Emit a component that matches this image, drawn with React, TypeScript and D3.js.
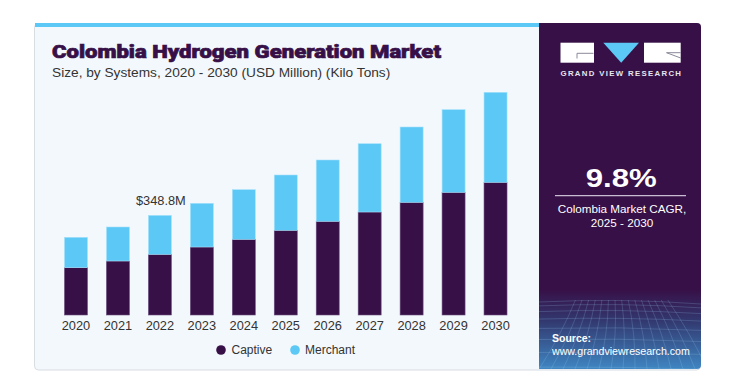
import React from "react";
import * as d3 from "d3";

const years = ["2020", "2021", "2022", "2023", "2024", "2025", "2026", "2027", "2028", "2029", "2030"];
const captive = [165.6, 189.0, 212.4, 238.0, 265.0, 296.5, 328.0, 360.5, 394.5, 429.5, 464.5];
const merchant = [106.4, 119.0, 136.4, 153.0, 173.6, 193.5, 214.5, 239.0, 263.5, 289.1, 315.0];
const seriesNames = ["Captive", "Merchant"];
const seriesColors = ["#371047", "#5bc8f5"];
const annotatedYear = "2022";
const annotationText = "$348.8M";
const titleText = "Colombia Hydrogen Generation Market";
const subtitleText = "Size, by Systems, 2020 - 2030 (USD Million) (Kilo Tons)";
const cagrText = "9.8%";
const cagrLabel1 = "Colombia Market CAGR,";
const cagrLabel2 = "2025 - 2030";

export default function App() {
  const x = d3.scaleBand<string>().domain(years).range([55, 516.5]).paddingInner(0.452).paddingOuter(0.226);
  const y = d3.scaleLinear().domain([0, 800]).range([315, 315 - 800 / 3.5]);

  const rows = years.map((yr, i) => ({ year: yr, Captive: captive[i], Merchant: merchant[i] }));
  const stacked = d3.stack<any>().keys(seriesNames)(rows);

  const annIdx = years.indexOf(annotatedYear);
  const annTotal = captive[annIdx] + merchant[annIdx];

  const font = "'Liberation Sans', Arial, sans-serif";

  // decorative perspective grid for bottom of side panel
  const gridLines: string[] = [];
  for (let i = 0; i <= 14; i++) {
    const bx = 539 + i * 12;
    const tx = 620 + (bx - 620) * 0.55;
    gridLines.push(`M${tx},300 Q${(tx + bx) / 2 + 4},335 ${bx},369`);
  }
  for (let j = 0; j < 9; j++) {
    const yy = 302 + j * j * 0.9 + j * 3;
    gridLines.push(`M539,${yy} Q620,${yy - 4 + j * 0.5} 701,${yy + 2}`);
  }

  return (
    <svg width={750} height={376} style={{ position: "absolute", left: 0, top: 0, background: "#fff" }}>
      <defs>
        <linearGradient id="panelGrad" x1="0" y1="0" x2="0" y2="1">
          <stop offset="0" stopColor="#371047" />
          <stop offset="0.77" stopColor="#371047" />
          <stop offset="0.86" stopColor="#32386f" />
          <stop offset="1" stopColor="#3f86c2" />
        </linearGradient>
        <clipPath id="panelClip">
          <path d="M539,23 H697 Q701,23 701,27 V365 Q701,369 697,369 H539 Z" />
        </clipPath>
      </defs>

      {/* card */}
      <rect x={34.5} y={23.5} width={666} height={346.5} rx={4} fill="#f3f8fc" stroke="#d8dde2" />
      <rect x={35} y={23} width={504} height={4} fill="#5bc8f5" />

      {/* side panel */}
      <g clipPath="url(#panelClip)">
        <rect x={539} y={23} width={162} height={346} fill="url(#panelGrad)" />
        {gridLines.map((d, i) => (
          <path key={i} d={d} fill="none" stroke="#9fd3f5" strokeOpacity={0.25} strokeWidth={0.8} />
        ))}
      </g>

      {/* logo */}
      <g>
        <rect x={560.5} y={42.7} width={33.5} height={20} fill="#ffffff" />
        <path d="M593.5,53.3 H577 V58.5" fill="none" stroke="#8a8a9a" strokeWidth={1} />
        <path d="M603.3,42.7 L639,42.7 L621.2,62.7 Z" fill="#5bc8f5" />
        <rect x={644} y={42.7} width={36.7} height={20} fill="#ffffff" />
        <path d="M680.7,52.7 H666.5 L680.7,58" fill="none" stroke="#8a8a9a" strokeWidth={1} />
        <text x={560.5} y={75.5} fill="#e6e6ee" fontFamily={font} fontWeight="bold" fontSize={7.8} textLength={120.5} lengthAdjust="spacing">
          GRAND VIEW RESEARCH
        </text>
      </g>

      {/* CAGR */}
      <text x={585.7} y={186.7} fill="#ffffff" fontFamily={font} fontWeight="bold" fontSize={26} textLength={71} lengthAdjust="spacingAndGlyphs">
        {cagrText}
      </text>
      <line x1={555} x2={686} y1={195.7} y2={195.7} stroke="#c9bcd2" strokeWidth={1.2} />
      <text x={622} y={213} textAnchor="middle" fill="#ffffff" fontFamily={font} fontSize={11.7}>
        {cagrLabel1}
      </text>
      <text x={622} y={227} textAnchor="middle" fill="#ffffff" fontFamily={font} fontSize={11.7}>
        {cagrLabel2}
      </text>

      {/* source */}
      <text x={552} y={341.7} fill="#ffffff" fontFamily={font} fontWeight="bold" fontSize={10.5}>
        Source:
      </text>
      <text x={552} y={355} fill="#ffffff" fontFamily={font} fontSize={10.6}>
        www.grandviewresearch.com
      </text>

      {/* titles */}
      <text
        x={52}
        y={58.3}
        fill="#371047"
        stroke="#371047"
        strokeWidth={0.7}
        fontFamily="Roboto, 'Open Sans', sans-serif"
        fontWeight={900}
        fontSize={18.5}
        textLength={389}
        lengthAdjust="spacingAndGlyphs"
      >
        {titleText}
      </text>
      <text x={52} y={77.3} fill="#333333" fontFamily={font} fontSize={13.7}>
        {subtitleText}
      </text>

      {/* bars */}
      {stacked.map((s, si) => (
        <g key={s.key}>
          {s.map((d, i) => (
            <rect
              key={years[i]}
              x={x(years[i])}
              y={y(d[1])}
              width={x.bandwidth()}
              height={y(d[0]) - y(d[1])}
              fill={seriesColors[si]}
              stroke={si === 0 ? "#6b4f80" : "#a8e2fa"}
              strokeWidth={0.6}
            />
          ))}
        </g>
      ))}

      {/* annotation */}
      <text
        x={(x(annotatedYear) as number) + x.bandwidth() / 2 + 1}
        y={y(annTotal) - 10.5}
        textAnchor="middle"
        fill="#333333"
        fontFamily={font}
        fontSize={12.8}
      >
        {annotationText}
      </text>

      {/* x labels */}
      {years.map((yr) => (
        <text
          key={yr}
          x={(x(yr) as number) + x.bandwidth() / 2}
          y={329.5}
          textAnchor="middle"
          fill="#333333"
          fontFamily={font}
          fontSize={12.8}
        >
          {yr}
        </text>
      ))}

      {/* legend */}
      <g>
        <circle cx={221} cy={350} r={4.8} fill={seriesColors[0]} />
        <text x={231.5} y={354.2} fill="#333333" fontFamily={font} fontSize={12}>
          {seriesNames[0]}
        </text>
        <circle cx={295} cy={350} r={4.8} fill={seriesColors[1]} />
        <text x={305} y={354.2} fill="#333333" fontFamily={font} fontSize={12}>
          {seriesNames[1]}
        </text>
      </g>
    </svg>
  );
}
